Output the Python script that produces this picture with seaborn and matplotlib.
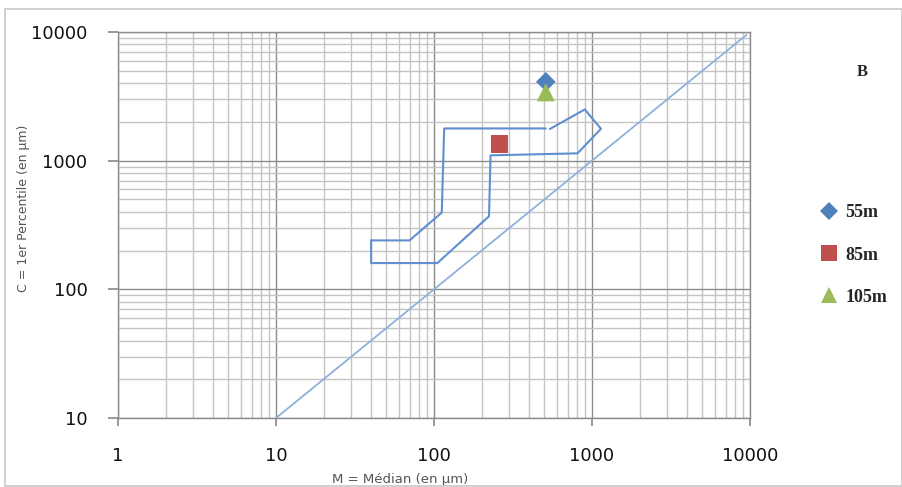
import numpy as np
import pandas as pd
import matplotlib
matplotlib.use('Agg')
import matplotlib.pyplot as plt
import seaborn as sns
from matplotlib.patches import Rectangle
from matplotlib.ticker import LogLocator, NullFormatter, FixedLocator

# ==========================================
# Data
# ==========================================
samples = ['55m', '85m', '105m']
sample_m = [510, 260, 510]      # median M (µm)
sample_c = [4100, 1350, 3400]   # 1st percentile C (µm)

# Passega envelope, drawn as two runs (small gap near the top edge)
env_a_m = [40, 70, 112, 116, 510]
env_a_c = [240, 240, 395, 1780, 1780]
env_b_m = [540, 900, 1140, 810, 228, 223, 105, 40, 40]
env_b_c = [1760, 2500, 1770, 1140, 1100, 370, 160, 160, 240]

# C = M reference line
ref_m = [10, 9500]
ref_c = [10, 9500]

tick_vals = [1, 10, 100, 1000, 10000]

df = pd.DataFrame({'M': sample_m, 'C': sample_c, 'Sample': samples})

# ==========================================
# Plot
# ==========================================
sns.set_theme(style="white")
plt.rcParams['font.family'] = ['DejaVu Sans']

fig = plt.figure(figsize=(9.03, 4.87), dpi=100)
ax = fig.add_axes([118 / 903, 69 / 487, 632 / 903, 386 / 487])

ax.set_xscale('log')
ax.set_yscale('log')
ax.set_xlim(1, 10000)
ax.set_ylim(10, 10000)

# grid like the spreadsheet original
ax.xaxis.set_minor_locator(LogLocator(base=10, subs=np.arange(2, 10)))
ax.yaxis.set_minor_locator(LogLocator(base=10, subs=np.arange(2, 10)))
ax.xaxis.set_minor_formatter(NullFormatter())
ax.yaxis.set_minor_formatter(NullFormatter())
ax.grid(True, which='major', color='#8c8c8c', linewidth=1.0)
ax.grid(True, which='minor', color='#c4c4c4', linewidth=1.0)
ax.set_axisbelow(True)

ax.plot(ref_m, ref_c, color='#8eb0dd', linewidth=1.3, zorder=3)
ax.plot(env_a_m, env_a_c, color='#5f8fd0', linewidth=1.5, zorder=3)
ax.plot(env_b_m, env_b_c, color='#5f8fd0', linewidth=1.5, zorder=3)

sns.scatterplot(data=df, x='M', y='C', hue='Sample', style='Sample', size='Sample',
                hue_order=samples, style_order=samples, size_order=samples,
                palette=['#4f81bd', '#c0504d', '#9bbb59'],
                markers={'55m': 'D', '85m': 's', '105m': '^'},
                sizes={'55m': 100, '85m': 160, '105m': 170},
                linewidth=0, ax=ax, zorder=4, legend='full')

handles, labels = ax.get_legend_handles_labels()
ax.get_legend().remove()
for h, ms in zip(handles, [9, 11, 12]):
    h.set_markersize(ms)
fig.legend(handles, labels, loc='upper left', bbox_to_anchor=(804 / 903, 1 - 188 / 487),
           frameon=False, labelspacing=1.4, handletextpad=0.4, handlelength=1.0,
           prop={'family': 'Liberation Serif', 'weight': 'bold', 'size': 13})

ax.xaxis.set_major_locator(FixedLocator(tick_vals))
ax.yaxis.set_major_locator(FixedLocator(tick_vals[1:]))
ax.set_xticklabels([str(v) for v in tick_vals])
ax.set_yticklabels([str(v) for v in tick_vals[1:]])
ax.tick_params(axis='x', which='major', bottom=True, length=6, color='#8c8c8c',
               pad=15, labelsize=13, labelcolor='#111111')
ax.tick_params(axis='y', which='major', left=True, length=7, color='#8c8c8c',
               pad=15, labelsize=13, labelcolor='#111111')
ax.tick_params(which='minor', length=0)

for side in ['left', 'bottom', 'top', 'right']:
    ax.spines[side].set_color('#8c8c8c')
    ax.spines[side].set_linewidth(1.0)

ax.set_xlabel('M = Médian (en µm)', fontsize=9.5, color='#555555')
ax.set_ylabel('C = 1er Percentile (en µm)', fontsize=9, color='#555555')
ax.xaxis.set_label_coords((400 - 118) / 632, (418 - 479) / 386)
ax.yaxis.set_label_coords((23 - 118) / 632, (418 - 208) / 386)
ax.xaxis.label.set_verticalalignment('center')
ax.yaxis.label.set_verticalalignment('center')

fig.text(862 / 903, 1 - 72 / 487, 'B', ha='center', va='center',
         family='Liberation Serif', weight='bold', fontsize=12)

# outer chart frame
fig.patches.append(Rectangle((5 / 903, 1 / 487), 897 / 903, 477 / 487,
                             transform=fig.transFigure, fill=False,
                             edgecolor='#c8c8c8', linewidth=1.2))

fig.savefig('out.png', dpi=100)
